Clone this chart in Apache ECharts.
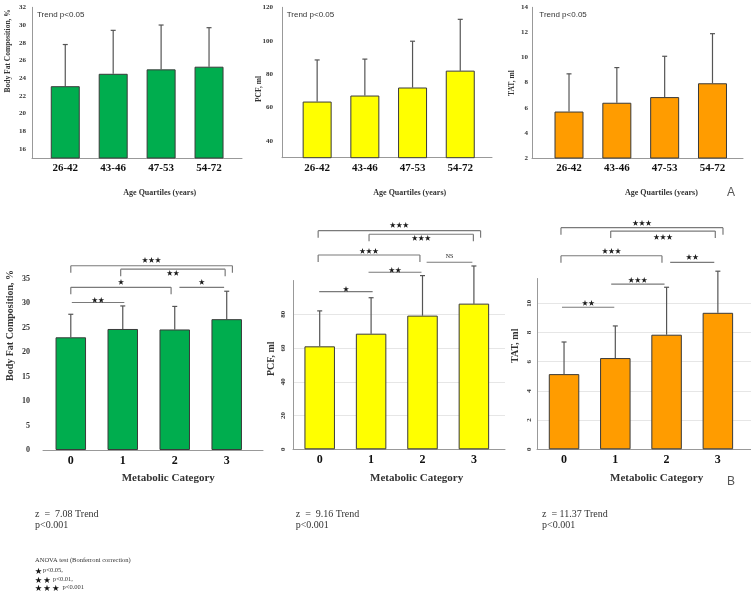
<html>
<head>
    <meta charset="UTF-8">
    <title>Document</title>
    <script src="https://cdn.jsdelivr.net/npm/echarts@6/dist/echarts.min.js"></script>
    <style>
        body {
            padding: 0;
            margin: 0;
            overflow: hidden;
            background: #fff;
        }
        #chart {
            width: 751px;
            height: 597px;
        }
    </style>
</head>
<body>
<div id="chart"></div>

<script>
    const ageGroups = ['26-42', '43-46', '47-53', '54-72'];
    const metCats = ['0', '1', '2', '3'];

    // age quartiles: mean and top of the error bar
    const ageFat = [23.1, 24.5, 25.0, 25.3];
    const ageFatUp = [27.8, 29.4, 30.0, 29.7];
    const agePcf = [63.6, 67.2, 72.0, 82.1];
    const agePcfUp = [88.5, 89.0, 99.7, 112.8];
    const ageTat = [5.7, 6.4, 6.85, 7.95];
    const ageTatUp = [8.7, 9.2, 10.1, 11.9];

    // metabolic category
    const metFat = [23.0, 24.7, 24.6, 26.7];
    const metFatUp = [27.7, 29.4, 29.3, 32.4];
    const metPcf = [61.0, 68.5, 79.2, 86.3];
    const metPcfUp = [82.0, 89.8, 102.9, 108.6];
    const metTat = [5.15, 6.25, 7.85, 9.35];
    const metTatUp = [7.35, 8.45, 11.1, 12.2];

    // brackets: [from, to, level, legs, label level]
    const fatBr = [[0, 3.11, 37.6, 1, 38.9], [0.96, 2.97, 36.9, 1, 36.2], [0, 1.93, 33.2, 1, 34.3], [2.09, 2.95, 33.2, 0, 34.3], [0.02, 1.03, 30.1, 0, 30.8]];
    const fatBrTxt = ['★★★', '★★', '★', '★', '★★'];
    const pcfBr = [[-0.03, 3.13, 129.5, 1, 132.9], [0.96, 2.99, 127.4, 1, 125.4], [-0.03, 1.95, 115.1, 1, 117.7], [2.08, 2.97, 110.8, 0, 114.1], [0.95, 1.98, 104.9, 0, 106.7], [-0.01, 1.03, 93.4, 0, 95.4]];
    const pcfBrTxt = ['★★★', '★★★', '★★★', 'NS', '★★', '★'];
    const tatBr = [[-0.06, 3.1, 15.18, 1, 15.52], [0.91, 2.95, 14.95, 1, 14.56], [-0.06, 1.91, 13.26, 1, 13.65], [2.07, 2.93, 12.81, 0, 13.19], [0.92, 1.96, 11.32, 0, 11.64], [-0.04, 0.98, 9.73, 0, 10.04]];
    const tatBrTxt = ['★★★', '★★★', '★★★', '★★', '★★★', '★★'];

    const trendZ = ['z  =  7.08 Trend', 'z  =  9.16 Trend', 'z  = 11.37 Trend'];

    const serif = '"Liberation Serif", "DejaVu Serif", serif';
    const starFont = '"Noto Sans CJK SC", "DejaVu Sans"';
    const GREEN = '#00ad4e', YELLOW = '#ffff00', ORANGE = '#ff9c00';

    const ec = echarts.init(document.getElementById('chart'));

    const frames = [
        {left: 32, top: 7.3, width: 210, height: 150.7},
        {left: 282, top: 7.3, width: 210, height: 150.4},
        {left: 532, top: 7.3, width: 211, height: 150.7},
        {left: 43, top: 278.5, width: 220, height: 171.5},
        {left: 293, top: 280.5, width: 212, height: 168.8},
        {left: 537, top: 278.5, width: 214, height: 170.8}
    ];
    const plots = [
        {left: 41.3, top: 7.3, width: 191.7, height: 150.7},
        {left: 293.3, top: 7.3, width: 190.8, height: 150.4},
        {left: 545.1, top: 7.3, width: 191.3, height: 150.7},
        {left: 44.8, top: 278.5, width: 207.9, height: 171.5},
        {left: 294, top: 280.5, width: 205.6, height: 168.8},
        {left: 538.4, top: 278.5, width: 205.1, height: 170.8}
    ];
    const scales = [
        {min: 15, max: 32, interval: 1, fmt: v => (v % 2 === 0 ? v : '')},
        {min: 30, max: 120, interval: 10, fmt: v => (v % 20 === 0 ? v : '')},
        {min: 2, max: 14, interval: 2, fmt: v => v},
        {min: 0, max: 35, interval: 5, fmt: v => v},
        {min: 0, max: 100, interval: 20, fmt: v => (v < 100 ? v : '')},
        {min: 0, max: 11.7, interval: 2, fmt: v => (v % 2 === 0 ? v : '')}
    ];

    const grid = frames.concat(plots);
    const xAxis = [];
    const yAxis = [];

    frames.forEach((f, i) => {
        xAxis.push({
            type: 'value', gridIndex: i, min: 0, max: 1,
            axisLabel: {show: false}, axisTick: {show: false}, splitLine: {show: false},
            axisLine: {lineStyle: {color: '#999', width: 1}}
        });
        const s = scales[i];
        const rot = i >= 4;
        yAxis.push({
            type: 'value', gridIndex: i, min: s.min, max: s.max, interval: s.interval,
            axisLine: {show: i !== 3, lineStyle: {color: '#999', width: 1}},
            axisTick: {show: false},
            splitLine: {show: i >= 4, showMaxLine: false, lineStyle: {color: '#e6e6e6', width: 1}},
            axisLabel: {
                formatter: s.fmt,
                rotate: rot ? 90 : 0,
                margin: [6, 9, 4, 13, 6, 4][i],
                fontFamily: serif,
                fontWeight: 'bold',
                fontSize: i < 3 ? 7 : (i === 3 ? 8 : 7),
                color: '#333'
            }
        });
    });

    plots.forEach((p, i) => {
        const top = i < 3;
        xAxis.push({
            type: 'category', gridIndex: 6 + i, data: top ? ageGroups : metCats,
            axisLine: {show: false}, axisTick: {show: false},
            axisLabel: {margin: 5, fontFamily: serif, fontWeight: 'bold', fontSize: top ? 11 : 12, color: '#111'}
        });
        yAxis.push({type: 'value', gridIndex: 6 + i, min: scales[i].min, max: scales[i].max, show: false});
    });

    // hidden value axes so brackets can sit between categories
    [9, 10, 11].forEach(g => {
        xAxis.push({type: 'value', gridIndex: g, min: -0.5, max: 3.5, show: false});
    });

    function errItem(params, api) {
        const base = api.coord([api.value(0), api.value(1)]);
        const tip = api.coord([api.value(0), api.value(2)]);
        const st = {stroke: '#555', lineWidth: 1.2};
        return {
            type: 'group', children: [
                {type: 'line', shape: {x1: base[0], y1: base[1], x2: tip[0], y2: tip[1]}, style: st},
                {type: 'line', shape: {x1: tip[0] - 2.5, y1: tip[1], x2: tip[0] + 2.5, y2: tip[1]}, style: st}
            ]
        };
    }

    function bracketItem(marks) {
        return function (params, api) {
            const a = api.coord([api.value(0), api.value(2)]);
            const b = api.coord([api.value(1), api.value(2)]);
            const t = api.coord([(api.value(0) + api.value(1)) / 2, api.value(4)]);
            const ln = {stroke: '#7a7a7a', lineWidth: 1.2};
            const kids = [{type: 'line', shape: {x1: a[0], y1: a[1], x2: b[0], y2: b[1]}, style: ln}];
            if (api.value(3)) {
                kids.push({type: 'line', shape: {x1: a[0], y1: a[1], x2: a[0], y2: a[1] + 7}, style: ln});
                kids.push({type: 'line', shape: {x1: b[0], y1: b[1], x2: b[0], y2: b[1] + 7}, style: ln});
            }
            const txt = marks[params.dataIndex];
            kids.push({
                type: 'text', x: t[0], y: t[1],
                style: {
                    text: txt, fill: '#1a1a1a', align: 'center', verticalAlign: 'middle',
                    font: txt === 'NS' ? '6px ' + serif : '6.5px ' + starFont
                }
            });
            return {type: 'group', children: kids};
        };
    }

    const panels = [
        [ageFat, ageFatUp, GREEN], [agePcf, agePcfUp, YELLOW], [ageTat, ageTatUp, ORANGE],
        [metFat, metFatUp, GREEN], [metPcf, metPcfUp, YELLOW], [metTat, metTatUp, ORANGE]
    ];
    const series = [];
    panels.forEach((p, i) => {
        series.push({
            type: 'bar', xAxisIndex: 6 + i, yAxisIndex: 6 + i,
            data: p[0], barWidth: i < 3 ? 29 : 30.5,
            itemStyle: {color: p[2], borderColor: '#3a3a3a', borderWidth: 1},
            silent: true
        });
        series.push({
            type: 'custom', xAxisIndex: 6 + i, yAxisIndex: 6 + i, clip: false,
            encode: {x: 0, y: [1, 2]},
            data: p[0].map((v, k) => [k, v, p[1][k]]),
            renderItem: errItem, silent: true
        });
    });
    [[fatBr, fatBrTxt], [pcfBr, pcfBrTxt], [tatBr, tatBrTxt]].forEach((b, k) => {
        series.push({
            type: 'custom', xAxisIndex: 12 + k, yAxisIndex: 9 + k, clip: false,
            encode: {x: 0, y: 2},
            data: b[0], renderItem: bracketItem(b[1]), silent: true
        });
    });

    function txt(text, x, y, font, opt, fill) {
        return Object.assign({
            type: 'text', x: x, y: y, silent: true,
            style: {text: text, font: font, fill: fill || '#333', align: 'left', verticalAlign: 'middle'}
        }, opt || {});
    }
    const yNameA = 'bold 7.5px ' + serif;
    const yNameB = 'bold 10px ' + serif;
    const rot = {rotation: Math.PI / 2};
    const star = '7px ' + starFont;
    const graphic = [
        txt('Trend p<0.05', 37, 15, '8px "Liberation Sans"'),
        txt('Trend p<0.05', 286.7, 15, '8px "Liberation Sans"'),
        txt('Trend p<0.05', 539.3, 15, '8px "Liberation Sans"'),
        txt('Body Fat Composition, %', 8.3, 92.5, yNameA, rot),
        txt('PCF, ml', 259.5, 102, yNameA, rot),
        txt('TAT, ml', 512, 96, yNameA, rot),
        txt('Body Fat Composition, %', 10.3, 381, yNameB, rot),
        txt('PCF, ml', 271.7, 376, yNameB, rot),
        txt('TAT, ml', 515, 363, yNameB, rot),
        txt('Age Quartiles (years)', 123.3, 193, 'bold 8px ' + serif),
        txt('Age Quartiles (years)', 373.3, 193, 'bold 8px ' + serif),
        txt('Age Quartiles (years)', 625, 193, 'bold 8px ' + serif),
        txt('Metabolic Category', 121.7, 478, 'bold 11px ' + serif),
        txt('Metabolic Category', 370, 478, 'bold 11px ' + serif),
        txt('Metabolic Category', 610, 478, 'bold 11px ' + serif),
        txt('A', 727, 193, '12px "Liberation Sans"', null, '#555'),
        txt('B', 727, 482, '12px "Liberation Sans"', null, '#555'),
        txt(trendZ[0], 35, 514.3, '10px ' + serif),
        txt('p<0.001', 35, 525.7, '10px ' + serif),
        txt(trendZ[1], 295.7, 514.3, '10px ' + serif),
        txt('p<0.001', 295.7, 525.7, '10px ' + serif),
        txt(trendZ[2], 542, 514.3, '10px ' + serif),
        txt('p<0.001', 542, 525.7, '10px ' + serif),
        txt('ANOVA test (Bonferroni correction)', 35, 560, '6.5px ' + serif),
        txt('★', 35, 570.7, star, null, '#111'),
        txt('p<0.05,', 43, 570.7, '6.5px ' + serif),
        txt('★ ★', 35, 579, star, null, '#111'),
        txt('p<0.01,', 53, 579, '6.5px ' + serif),
        txt('★ ★ ★', 35, 587.7, star, null, '#111'),
        txt('p<0.001', 62.5, 587.7, '6.5px ' + serif)
    ];

    const option = {
        backgroundColor: '#fff',
        animation: false,
        grid: grid,
        xAxis: xAxis,
        yAxis: yAxis,
        series: series,
        graphic: graphic
    };
    ec.setOption(option);
</script>
</body>
</html>
